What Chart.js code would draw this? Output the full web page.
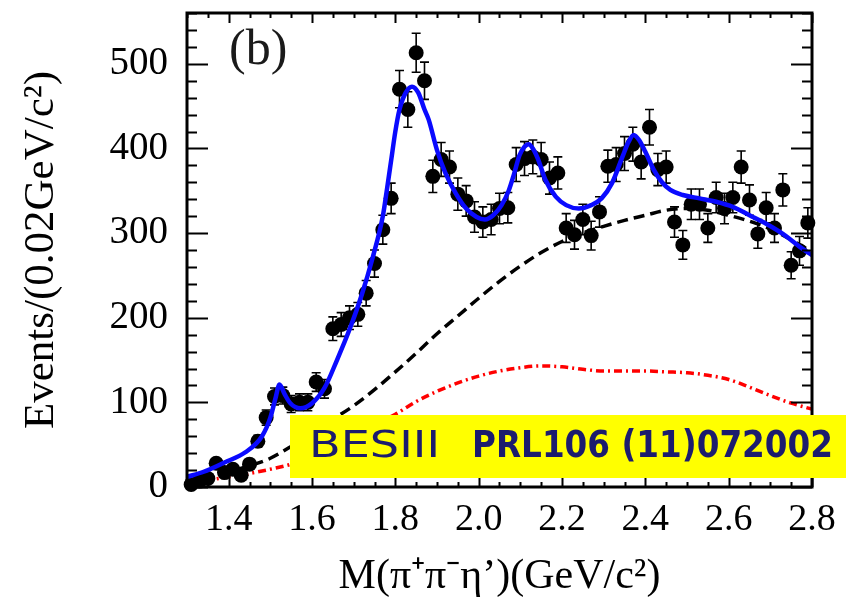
<!DOCTYPE html>
<html>
<head>
<meta charset="utf-8">
<script src="https://cdn.jsdelivr.net/npm/chart.js@4.4.1/dist/chart.umd.min.js"></script>
<style>
  html, body { margin: 0; background: #fff; }
  #wrap { width: 858px; height: 600px; }
</style>
</head>
<body>
<div id="wrap"><canvas id="plot" width="858" height="600"></canvas></div>
<script>
// M(pi+ pi- eta') spectrum, bins of 0.02 GeV/c^2 (bin centres)
const massBins = [
  1.31, 1.33, 1.35, 1.37, 1.39, 1.41, 1.43, 1.45, 1.47, 1.49,
  1.51, 1.53, 1.55, 1.57, 1.59, 1.61, 1.63, 1.65, 1.67, 1.69,
  1.71, 1.73, 1.75, 1.77, 1.79, 1.81, 1.83, 1.85, 1.87, 1.89,
  1.91, 1.93, 1.95, 1.97, 1.99, 2.01, 2.03, 2.05, 2.07, 2.09,
  2.11, 2.13, 2.15, 2.17, 2.19, 2.21, 2.23, 2.25, 2.27, 2.29,
  2.31, 2.33, 2.35, 2.37, 2.39, 2.41, 2.43, 2.45, 2.47, 2.49,
  2.51, 2.53, 2.55, 2.57, 2.59, 2.61, 2.63, 2.65, 2.67, 2.69,
  2.71, 2.73, 2.75, 2.77, 2.79
];
const eventCounts = [
  3, 7, 10, 28, 17, 21, 14, 27, 54, 82,
  107, 108, 98, 100, 100, 124, 116, 187, 192, 200,
  204, 229, 264, 304, 341, 470, 446, 513, 480, 367,
  387, 378, 346, 338, 319, 313, 316, 329, 330, 381,
  388, 390, 387, 365, 371, 306, 298, 316, 297, 325,
  379, 381, 394, 405, 384, 425, 375, 378, 313, 286,
  334, 334, 306, 342, 329, 342, 378, 339, 299, 330,
  306, 351, 262, 279, 312
];
const eventErrors = [
  2, 3, 3, 5, 4, 5, 4, 5, 7, 9,
  10, 10, 10, 10, 10, 11, 11, 14, 14, 14,
  14, 15, 16, 17, 18, 22, 21, 23, 22, 19,
  20, 19, 19, 18, 18, 18, 18, 18, 18, 20,
  20, 20, 20, 19, 19, 17, 17, 18, 17, 18,
  19, 20, 20, 20, 20, 21, 19, 19, 18, 17,
  18, 18, 17, 18, 18, 18, 19, 18, 17, 18,
  17, 19, 16, 17, 18
];

// total fit (blue)
const fitMass = [
  1.30, 1.34, 1.39, 1.44, 1.48, 1.50, 1.512, 1.522, 1.534, 1.548,
  1.572, 1.60, 1.63, 1.66, 1.69, 1.72, 1.745, 1.77, 1.78, 1.79,
  1.80, 1.81, 1.825, 1.84, 1.855, 1.87, 1.88, 1.90, 1.92, 1.945,
  1.97, 1.995, 2.015, 2.035, 2.055, 2.072, 2.085, 2.098, 2.11, 2.12,
  2.13, 2.142, 2.16, 2.185, 2.21, 2.24, 2.27, 2.295, 2.32, 2.345,
  2.36, 2.372, 2.385, 2.40, 2.42, 2.44, 2.46, 2.49, 2.53, 2.57,
  2.61, 2.65, 2.69, 2.73, 2.77, 2.80
];
const fitEvents = [
  12, 18, 29, 41, 60, 82, 104, 121, 110, 99,
  93, 99, 117, 150, 186, 228, 270, 320, 352, 386,
  420, 446, 466, 473, 466, 446, 434, 398, 371, 347,
  329, 319, 316, 321, 333, 350, 370, 392, 402, 405,
  400, 388, 363, 343, 333, 329, 333, 341, 359, 390,
  408, 416, 410, 396, 375, 360, 351, 345, 341, 337,
  331, 321, 311, 299, 284, 274
];

// background (black dashed)
const bkgMass = [
  1.30, 1.35, 1.40, 1.45, 1.50, 1.55, 1.60, 1.65, 1.70, 1.75,
  1.80, 1.85, 1.90, 1.95, 2.00, 2.05, 2.10, 2.15, 2.20, 2.25,
  2.30, 2.35, 2.40, 2.45, 2.50, 2.55, 2.60, 2.65, 2.70, 2.75, 2.80
];
const bkgEvents = [
  5, 11, 18, 25, 34, 48, 64, 80, 96, 115,
  136, 158, 181, 202, 223, 243, 261, 277, 290, 300,
  308, 315, 321, 327, 329, 327, 321, 314, 305, 292, 278
];

// component (red dash-dotted)
const compMass = [
  1.30, 1.35, 1.40, 1.45, 1.50, 1.55, 1.60, 1.65, 1.70, 1.75,
  1.80, 1.85, 1.90, 1.95, 2.00, 2.05, 2.10, 2.15, 2.20, 2.25,
  2.30, 2.35, 2.40, 2.45, 2.50, 2.55, 2.60, 2.65, 2.70, 2.75, 2.80
];
const compEvents = [
  5, 8, 12, 16, 21, 27, 37, 49, 61, 74,
  86, 101, 113, 123, 131, 137, 141, 143, 142, 139,
  137, 137, 137, 136, 135, 132, 127, 118, 108, 99, 92
];

const xTickValues = [1.4, 1.6, 1.8, 2.0, 2.2, 2.4, 2.6, 2.8];
const yTickValues = [0, 100, 200, 300, 400, 500];

const toXY = (xs, ys) => xs.map((x, i) => ({ x: x, y: ys[i] }));

const serif = '"Liberation Serif", "Times New Roman", serif';

// error bars under the markers
const errorBars = {
  id: 'errorBars',
  beforeDatasetsDraw(chart) {
    const { ctx, scales: { x, y } } = chart;
    ctx.save();
    ctx.strokeStyle = '#000';
    ctx.lineWidth = 1.6;
    massBins.forEach((m, i) => {
      const px = x.getPixelForValue(m);
      const yHi = y.getPixelForValue(eventCounts[i] + eventErrors[i]);
      const yLo = y.getPixelForValue(eventCounts[i] - eventErrors[i]);
      ctx.beginPath();
      ctx.moveTo(px, yHi); ctx.lineTo(px, yLo);
      ctx.moveTo(px - 4.5, yHi); ctx.lineTo(px + 4.5, yHi);
      ctx.moveTo(px - 4.5, yLo); ctx.lineTo(px + 4.5, yLo);
      ctx.stroke();
    });
    ctx.restore();
  }
};

// ROOT style frame with inward ticks, "(b)" tag and the reference box
const frameDecor = {
  id: 'frameDecor',
  afterDraw(chart) {
    const { ctx, chartArea: a, scales: { x, y } } = chart;
    ctx.save();
    ctx.strokeStyle = '#000';
    ctx.lineWidth = 2;
    ctx.beginPath();
    for (let k = 0; k <= 30; k++) {
      const v = 1.3 + k * 0.05;
      const px = Math.round(x.getPixelForValue(v)) + 0.5;
      const major = Math.abs(v * 5 - Math.round(v * 5)) < 1e-6;
      const len = major ? 10 : 5;
      ctx.moveTo(px, a.bottom); ctx.lineTo(px, a.bottom - len);
      ctx.moveTo(px, a.top); ctx.lineTo(px, a.top + len);
    }
    for (let v = 0; v <= 560; v += 20) {
      const py = Math.round(y.getPixelForValue(v)) + 0.5;
      const len = v % 100 === 0 ? 21 : 10;
      ctx.moveTo(a.left, py); ctx.lineTo(a.left + len, py);
      ctx.moveTo(a.right, py); ctx.lineTo(a.right - len, py);
    }
    ctx.stroke();
    ctx.lineWidth = 3;
    ctx.strokeRect(a.left, a.top, a.right - a.left, a.bottom - a.top);

    ctx.fillStyle = '#1a1a1a';
    ctx.font = '50px ' + serif;
    ctx.textBaseline = 'alphabetic';
    ctx.fillText('(b)', 229, 64);

    // reference box
    ctx.fillStyle = '#ffff00';
    ctx.fillRect(290, 415, 556, 63);
    ctx.fillStyle = '#1c1c6e';
    const sans = '"DejaVu Sans", "Noto Sans", sans-serif';
    const drawFit = (txt, font, x0, width) => {
      ctx.font = font;
      const w = ctx.measureText(txt).width;
      ctx.save();
      ctx.translate(x0, 457);
      ctx.scale(width / w, 1);
      ctx.fillText(txt, 0, 0);
      ctx.restore();
    };
    drawFit('BESIII', '37px ' + sans, 309, 131);
    drawFit('PRL106 (11)072002', 'bold 37px ' + sans, 472, 361);
    ctx.restore();
  }
};

new Chart(document.getElementById('plot'), {
  type: 'scatter',
  data: {
    datasets: [
      {
        label: 'fit',
        data: toXY(fitMass, fitEvents),
        showLine: true,
        borderColor: '#0a0aff',
        borderWidth: 4.5,
        pointRadius: 0,
        cubicInterpolationMode: 'monotone',
        order: 0
      },
      {
        label: 'data',
        data: toXY(massBins, eventCounts),
        backgroundColor: '#000',
        borderColor: '#000',
        pointRadius: 7.5,
        pointBorderWidth: 0,
        clip: false,
        order: 1
      },
      {
        label: 'background',
        data: toXY(bkgMass, bkgEvents),
        showLine: true,
        borderColor: '#000',
        borderWidth: 3.5,
        borderDash: [11, 6],
        pointRadius: 0,
        cubicInterpolationMode: 'monotone',
        order: 2
      },
      {
        label: 'component',
        data: toXY(compMass, compEvents),
        showLine: true,
        borderColor: '#ff0000',
        borderWidth: 3.5,
        borderDash: [8, 4, 2, 4],
        pointRadius: 0,
        cubicInterpolationMode: 'monotone',
        order: 3
      }
    ]
  },
  options: {
    responsive: false,
    animation: false,
    layout: { padding: { top: 13, right: 46, left: 0, bottom: 0 } },
    plugins: { legend: { display: false }, tooltip: { enabled: false } },
    scales: {
      x: {
        type: 'linear',
        min: 1.3,
        max: 2.8,
        afterBuildTicks: s => { s.ticks = xTickValues.map(v => ({ value: v })); },
        afterFit: s => { s.height = 113; s.paddingLeft = 0; s.paddingRight = 0; },
        grid: { display: false, drawTicks: false },
        border: { display: false },
        ticks: {
          color: '#000',
          padding: 10,
          maxRotation: 0,
          autoSkip: false,
          font: { family: serif, size: 38 },
          callback: v => v.toFixed(1)
        },
        title: {
          display: true,
          text: 'M(π⁺π⁻η’)(GeV/c²)',
          color: '#000',
          font: { family: serif, size: 42, lineHeight: 1 },
          padding: { top: 0, bottom: 2 }
        }
      },
      y: {
        min: 0,
        max: 560,
        afterBuildTicks: s => { s.ticks = yTickValues.map(v => ({ value: v })); },
        afterFit: s => { s.width = 187; s.paddingTop = 0; s.paddingBottom = 0; },
        grid: { display: false, drawTicks: false },
        border: { display: false },
        ticks: {
          color: '#000',
          padding: 19,
          font: { family: serif, size: 39 }
        },
        title: {
          display: true,
          text: 'Events/(0.02GeV/c²)',
          color: '#000',
          font: { family: serif, size: 43, lineHeight: 1 },
          padding: { top: 20, bottom: 0 }
        }
      }
    }
  },
  plugins: [errorBars, frameDecor]
});
</script>
</body>
</html>
